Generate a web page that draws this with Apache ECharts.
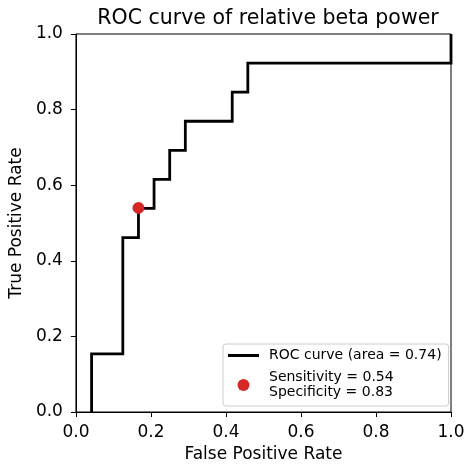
<!DOCTYPE html>
<html>
<head>
<meta charset="utf-8">
<script src="https://cdn.jsdelivr.net/npm/echarts@6/dist/echarts.min.js"></script>
<style>
  html, body { margin: 0; padding: 0; background: #fff; }
  #chart { width: 468px; height: 470px; }
</style>
</head>
<body>
<div id="chart"></div>
<script>
// ROC curve points (false positive rate, true positive rate)
const fpr = [0.0417, 0.0417, 0.125, 0.125, 0.1667, 0.1667, 0.2083, 0.2083, 0.25, 0.25, 0.2917, 0.2917, 0.4167, 0.4167, 0.4583, 0.4583, 1.0, 1.0];
const tpr = [0.0, 0.1538, 0.1538, 0.4615, 0.4615, 0.5385, 0.5385, 0.6154, 0.6154, 0.6923, 0.6923, 0.7692, 0.7692, 0.8462, 0.8462, 0.9231, 0.9231, 1.0];
const auc = 0.74;

// Chosen operating point
const opFpr = 0.1667;
const sensitivity = 0.54;
const specificity = 0.83;

const axisTicks = [0.0, 0.2, 0.4, 0.6, 0.8, 1.0];

const rocName = 'ROC curve (area = ' + auc.toFixed(2) + ')';
const opName = 'Sensitivity = ' + sensitivity.toFixed(2) + '\nSpecificity = ' + specificity.toFixed(2);

const FONT = 'DejaVu Sans';

function valueAxis(name, nameGap, labelMargin) {
  return {
    type: 'value',
    min: axisTicks[0],
    max: axisTicks[axisTicks.length - 1],
    interval: axisTicks[1] - axisTicks[0],
    name: name,
    nameLocation: 'middle',
    nameGap: nameGap,
    nameTextStyle: { color: '#000', fontFamily: FONT, fontSize: 17 },
    axisLine: { show: true, lineStyle: { color: '#000', width: 1 } },
    axisTick: { show: true, inside: false, length: 5, lineStyle: { color: '#000', width: 1 } },
    axisLabel: {
      color: '#000', fontFamily: FONT, fontSize: 17, margin: labelMargin,
      formatter: v => v.toFixed(1)
    },
    splitLine: { show: false }
  };
}

const chart = echarts.init(document.getElementById('chart'), null, { renderer: 'canvas' });
chart.setOption({
  animation: false,
  backgroundColor: '#fff',
  title: {
    text: 'ROC curve of relative beta power',
    left: 263,
    top: 3,
    textAlign: 'center',
    textStyle: { color: '#000', fontFamily: FONT, fontSize: 20.5, fontWeight: 'normal' }
  },
  grid: {
    left: 75, top: 34, right: 17, bottom: 58,
    show: true, borderColor: '#000', borderWidth: 1, backgroundColor: 'transparent'
  },
  xAxis: valueAxis('False Positive Rate', 33, 12),
  yAxis: valueAxis('True Positive Rate', 47, 13),
  legend: {
    orient: 'vertical',
    left: 223,
    top: 344,
    width: 212,
    padding: [4, 7, 6, 5],
    itemGap: 7,
    itemWidth: 31,
    itemHeight: 12,
    backgroundColor: 'rgba(255,255,255,0.8)',
    borderColor: '#cccccc',
    borderWidth: 1,
    borderRadius: 3,
    textStyle: { color: '#000', fontFamily: FONT, fontSize: 14, lineHeight: 15, padding: [0, 0, 0, 5] },
    data: [
      { name: rocName, icon: 'path://M0 0H31V3H0Z', itemStyle: { color: '#000' } },
      { name: opName, icon: 'circle', itemStyle: { color: '#d62728' } }
    ]
  },
  series: [
    {
      name: rocName,
      type: 'line',
      data: fpr.map((x, i) => [x, tpr[i]]),
      showSymbol: false,
      symbol: 'none',
      clip: true,
      lineStyle: { color: '#000', width: 2.8, join: 'miter', cap: 'butt' },
      itemStyle: { color: '#000' },
      z: 2
    },
    {
      name: opName,
      type: 'scatter',
      data: [[opFpr, sensitivity]],
      symbol: 'circle',
      symbolSize: 12,
      itemStyle: { color: '#d62728', opacity: 1 },
      z: 3
    }
  ]
});
</script>
</body>
</html>
